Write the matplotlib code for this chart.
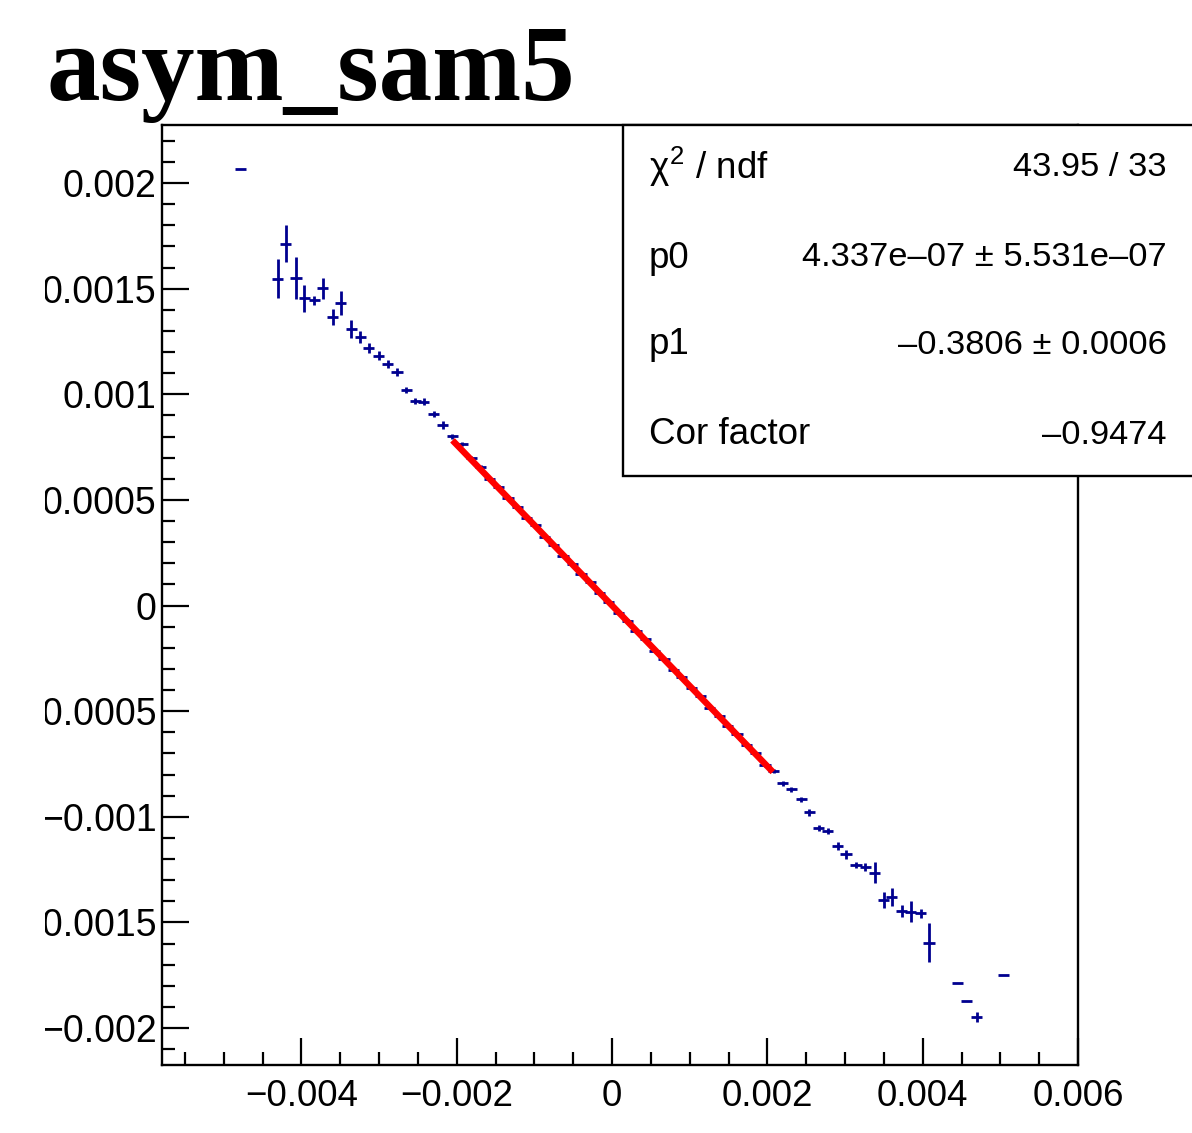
import matplotlib
matplotlib.use("Agg")
import matplotlib.pyplot as plt
from matplotlib.patches import Rectangle
from matplotlib.ticker import MultipleLocator, FixedLocator, FixedFormatter
from matplotlib.transforms import Bbox, TransformedBbox
import numpy as np

plt.rcParams['mathtext.fontset'] = 'custom'
plt.rcParams['mathtext.rm'] = 'Liberation Sans'
plt.rcParams['mathtext.it'] = 'Liberation Sans'

# ---- data (x, y in units of 1e-3) ----
x_vals = [-4.784, -4.304, -4.202, -4.069, -3.963, -3.834, -3.723, -3.594, -3.491, -3.359,
          -3.243, -3.132, -3.004, -2.888, -2.768, -2.649, -2.533, -2.422, -2.294, -2.182,
          -2.054, -1.929,
          -1.81, -1.69, -1.58, -1.46, -1.34, -1.22, -1.10, -0.99, -0.87, -0.75,
          -0.63, -0.51, -0.40, -0.28, -0.16, -0.04, 0.08, 0.20, 0.31, 0.43,
          0.55, 0.67, 0.79, 0.90, 1.02, 1.14, 1.26, 1.38, 1.49, 1.61,
          1.73, 1.85, 1.97, 2.08,
          2.199, 2.306, 2.435, 2.542, 2.661, 2.777, 2.905, 3.013, 3.141, 3.261,
          3.385, 3.496, 3.603, 3.732, 3.847, 3.976, 4.082, 4.446, 4.561, 4.694, 5.045]
y_vals = [2.065, 1.547, 1.713, 1.549, 1.454, 1.445, 1.502, 1.367, 1.433, 1.309,
          1.270, 1.220, 1.183, 1.143, 1.105, 1.020, 0.968, 0.965, 0.907, 0.854,
          0.802, 0.764,
          0.700, 0.655, 0.598, 0.562, 0.508, 0.468, 0.416, 0.380, 0.326, 0.288,
          0.236, 0.198, 0.150, 0.110, 0.058, 0.018, -0.034, -0.072, -0.121, -0.160,
          -0.213, -0.251, -0.305, -0.340, -0.392, -0.430, -0.484, -0.522, -0.571, -0.610,
          -0.662, -0.700, -0.754, -0.783,
          -0.842, -0.869, -0.917, -0.979, -1.052, -1.066, -1.138, -1.178, -1.228, -1.239,
          -1.265, -1.394, -1.378, -1.445, -1.449, -1.457, -1.596, -1.786, -1.874, -1.949, -1.748]
y_errs = [0.0, 0.092, 0.087, 0.099, 0.062, 0.022, 0.049, 0.038, 0.057, 0.043,
          0.028, 0.024, 0.022, 0.020, 0.018, 0.013, 0.015, 0.016, 0.016, 0.020,
          0.012, 0.010,
          0.009, 0.009, 0.008, 0.008, 0.008, 0.008, 0.007, 0.007, 0.007, 0.007,
          0.007, 0.007, 0.007, 0.007, 0.007, 0.007, 0.007, 0.007, 0.007, 0.007,
          0.007, 0.007, 0.007, 0.007, 0.007, 0.008, 0.008, 0.008, 0.008, 0.008,
          0.009, 0.009, 0.009, 0.010,
          0.010, 0.012, 0.012, 0.016, 0.014, 0.014, 0.018, 0.020, 0.016, 0.018,
          0.050, 0.036, 0.043, 0.028, 0.050, 0.020, 0.092, 0.0, 0.0, 0.024, 0.0]
x_half_width = 0.072  # half bin width (1e-3 units)

fit_p0 = 4.337e-07
fit_p1 = -0.3806
fit_range = [-2.054, 2.071]  # 1e-3 units

title = "asym_sam5"
stats_labels = [r"$\chi^{2}$ / ndf", "p0", "p1", "Cor factor"]
stats_values = ["43.95 / 33", "4.337e\u201307 \u00b1 5.531e\u201307", "\u20130.3806 \u00b1 0.0006", "\u20130.9474"]

x_ticks = [-0.004, -0.002, 0.0, 0.002, 0.004, 0.006]
x_tick_labels = ["\u22120.004", "\u22120.002", "0", "0.002", "0.004", "0.006"]
y_ticks = [-0.002, -0.0015, -0.001, -0.0005, 0.0, 0.0005, 0.001, 0.0015, 0.002]
y_tick_labels = ["\u22120.002", "\u22120.0015", "\u22120.001", "\u22120.0005", "0", "0.0005", "0.001", "0.0015", "0.002"]

# ---- figure ----
W, H = 1192, 1133
fig = plt.figure(figsize=(W / 100, H / 100), dpi=100)
fig.patch.set_facecolor('white')

def fx(px):
    return px / W

def fy(py):
    return 1 - py / H

ax = fig.add_axes([fx(162), fy(1065), fx(1078) - fx(162), fy(125) - fy(1065)])
ax.set_xlim(-0.005794, 0.0060)
ax.set_ylim(-0.002175, 0.002275)

x = np.array(x_vals) * 1e-3
y = np.array(y_vals) * 1e-3
ye = np.array(y_errs) * 1e-3
blue = '#00008f'
ax.errorbar(x, y, yerr=ye, xerr=x_half_width * 1e-3, fmt='none', ecolor=blue,
            elinewidth=2.0, capsize=0, zorder=2)

xf = np.array(fit_range) * 1e-3
ax.plot(xf, fit_p0 + fit_p1 * xf, color='red', lw=4.6, zorder=3, solid_capstyle='butt')

for s in ['top', 'bottom', 'left', 'right']:
    ax.spines[s].set_linewidth(1.7)

ax.xaxis.set_major_locator(FixedLocator(x_ticks))
ax.xaxis.set_major_formatter(FixedFormatter(x_tick_labels))
ax.xaxis.set_minor_locator(MultipleLocator(0.0005))
ax.yaxis.set_major_locator(FixedLocator(y_ticks))
ax.yaxis.set_major_formatter(FixedFormatter(y_tick_labels))
ax.yaxis.set_minor_locator(MultipleLocator(0.0001))
ax.tick_params(which='both', direction='in', top=False, right=False, width=1.6, color='black')
ax.tick_params(which='major', length=19.5)
ax.tick_params(which='minor', length=9.5)
ax.tick_params(axis='x', which='major', pad=10, labelsize=26.5)
ax.tick_params(axis='y', which='major', pad=4, labelsize=27)
for lbl in ax.get_xticklabels() + ax.get_yticklabels():
    lbl.set_fontfamily('Liberation Sans')

clip = TransformedBbox(Bbox([[fx(45), 0], [1, 1]]), fig.transFigure)
for t in ax.yaxis.get_major_ticks():
    t.label1.set_clip_box(clip)
    t.label1.set_clip_on(True)

# title
fig.text(fx(46), fy(100), title, fontsize=77, fontweight='bold', family='Liberation Serif',
         ha='left', va='baseline')

# stats box
box = Rectangle((fx(623), fy(476)), 1.05 - fx(623), fy(125) - fy(476), transform=fig.transFigure,
                facecolor='white', edgecolor='black', lw=1.7, zorder=10, clip_on=False)
fig.add_artist(box)
row_y = [167, 258, 345, 435]
for lab, val, ry in zip(stats_labels, stats_values, row_y):
    fig.text(fx(649), fy(ry), lab, fontsize=26.5, family='Liberation Sans', ha='left', va='center', zorder=11)
    fig.text(fx(1167), fy(ry), val, fontsize=24.8, family='Liberation Sans', ha='right', va='center', zorder=11)

fig.savefig('out.png', dpi=100)
